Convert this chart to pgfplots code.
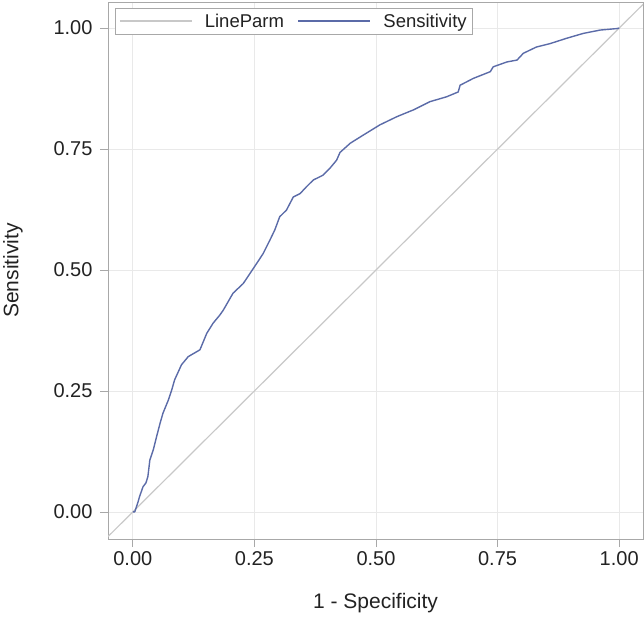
\documentclass[border=0pt]{standalone}
\usepackage{fontspec}
\setmainfont{Liberation Sans}
\usepackage{pgfplots}
\pgfplotsset{compat=1.18}

\definecolor{rocblue}{HTML}{5B6BA8}
\definecolor{diaggray}{HTML}{C8C8C8}
\definecolor{gridgray}{HTML}{E9E9E9}
\definecolor{framegray}{HTML}{A8A8A8}
\definecolor{txt}{HTML}{222222}

\begin{document}
\begin{tikzpicture}
\begin{axis}[
    name=ax,
    scale only axis,
    width=535pt, height=537pt,
    xmin=-0.051, xmax=1.049,
    ymin=-0.056, ymax=1.054,
    xtick={0,0.25,0.5,0.75,1}, ytick={0,0.25,0.5,0.75,1},
    /pgf/number format/assume math mode=true,
    /pgf/number format/.cd, fixed, fixed zerofill, precision=2, /pgfplots/.cd,
    tick label style={font=\fontsize{20}{24}\selectfont, text=txt},
    yticklabel style={xshift=-4pt},
    xticklabel style={yshift=-1pt},
    label style={font=\fontsize{21}{25}\selectfont, text=txt},
    xlabel={1 - Specificity}, ylabel={Sensitivity},
    xlabel style={at={(axis description cs:0.5,-0.119)}, anchor=center},
    ylabel style={at={(axis description cs:-0.1775,0.5)}, anchor=center},
    axis line style={framegray},
    tick style={framegray, line width=0.8pt},
    tick align=outside, major tick length=8pt,
    xtick pos=bottom, ytick pos=left,
    grid=major, major grid style={gridgray, line width=0.8pt},
    legend columns=2,
    legend style={at={(axis description cs:0.013,0.989)}, anchor=north west,
        draw=framegray, font=\fontsize{18.5}{22}\selectfont, text=txt,
        inner xsep=4pt, inner ysep=4pt,
        nodes={inner sep=1.5pt},
        /tikz/every even column/.append style={column sep=12pt},
        /tikz/every odd column/.append style={column sep=11pt}},
    legend image code/.code={\draw[#1] (0pt,0pt) -- (72pt,0pt);},
]
\addplot[diaggray, line width=1.2pt] coordinates {(-0.1,-0.1) (1.1,1.1)};
\addlegendentry{LineParm}
\addplot[rocblue, line width=1.4pt, line join=round] table {
x y
0.000 0.000
0.004 0.000
0.010 0.018
0.014 0.032
0.021 0.052
0.027 0.060
0.031 0.073
0.035 0.107
0.042 0.128
0.049 0.156
0.056 0.183
0.062 0.204
0.073 0.231
0.080 0.252
0.086 0.273
0.100 0.304
0.114 0.321
0.138 0.335
0.152 0.369
0.165 0.390
0.179 0.407
0.186 0.417
0.206 0.452
0.227 0.472
0.241 0.493
0.255 0.514
0.268 0.534
0.282 0.562
0.292 0.583
0.302 0.610
0.316 0.624
0.330 0.651
0.344 0.658
0.357 0.672
0.371 0.686
0.391 0.696
0.405 0.710
0.419 0.727
0.426 0.743
0.447 0.762
0.474 0.779
0.508 0.800
0.543 0.817
0.577 0.831
0.611 0.848
0.645 0.858
0.669 0.868
0.673 0.882
0.700 0.896
0.735 0.910
0.741 0.920
0.769 0.930
0.790 0.934
0.803 0.948
0.830 0.961
0.858 0.968
0.892 0.979
0.926 0.989
0.961 0.996
0.995 0.999
1.000 1.000
};
\addlegendentry{Sensitivity}
\end{axis}
\pgfresetboundingbox
\path[use as bounding box] ([xshift=-108pt,yshift=-81pt]ax.south west) rectangle ([xshift=1pt,yshift=2pt]ax.north east);
\end{tikzpicture}
\end{document}
